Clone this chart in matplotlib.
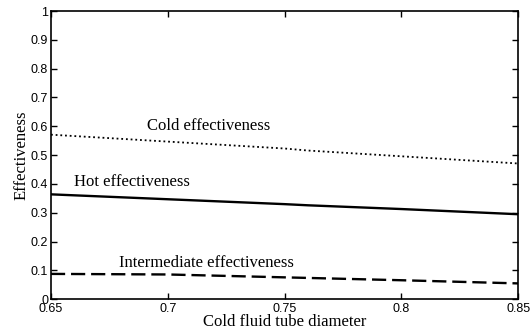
import matplotlib
matplotlib.use("Agg")
import matplotlib.pyplot as plt

# --------------------------------
# Data
# --------------------------------
diameter = [0.65, 0.70, 0.75, 0.76, 0.80, 0.85]
cold_eff = [0.571, 0.547, 0.523, 0.516, 0.496, 0.471]
hot_eff = [0.364, 0.347, 0.330, 0.326, 0.313, 0.295]
inter_eff = [0.088, 0.086, 0.076, 0.074, 0.066, 0.055]

x_ticks = [0.65, 0.7, 0.75, 0.8, 0.85]
x_tick_labels = ["0.65", "0.7", "0.75", "0.8", "0.85"]
y_ticks = [0, 0.1, 0.2, 0.3, 0.4, 0.5, 0.6, 0.7, 0.8, 0.9, 1]
y_tick_labels = ["0", "0.1", "0.2", "0.3", "0.4", "0.5", "0.6", "0.7", "0.8", "0.9", "1"]

serif = "Liberation Serif"
sans = "Liberation Sans"

# --------------------------------
# Plot
# --------------------------------
fig = plt.figure(figsize=(5.31, 3.34), dpi=100)
ax = fig.add_axes([0.096, 0.104, 0.880, 0.863])

ax.plot(diameter, cold_eff, color="black", linestyle=(0, (1, 1.6)), linewidth=1.3)
ax.plot(diameter, hot_eff, color="black", linestyle="-", linewidth=1.7)
ax.plot(diameter, inter_eff, color="black", linestyle=(0, (6, 2.5)), linewidth=1.7)

ax.text(0.691, 0.602, "Cold effectiveness", family=serif, fontsize=12, va="center")
ax.text(0.660, 0.407, "Hot effectiveness", family=serif, fontsize=12, va="center")
ax.text(0.679, 0.127, "Intermediate effectiveness", family=serif, fontsize=12, va="center")

ax.set_xlim(0.65, 0.85)
ax.set_ylim(0, 1)
ax.set_xticks(x_ticks)
ax.set_xticklabels(x_tick_labels, family=sans, fontsize=9)
ax.set_yticks(y_ticks)
ax.set_yticklabels(y_tick_labels, family=sans, fontsize=9)
ax.tick_params(direction="in", top=True, right=True, length=4, width=1, pad=2)
ax.tick_params(axis="x", pad=3)
for s in ax.spines.values():
    s.set_linewidth(1.2)

ax.set_xlabel("Cold fluid tube diameter", family=serif, fontsize=12, labelpad=-1)
ax.set_ylabel("Effectiveness", family=serif, fontsize=12, labelpad=1)

fig.savefig("out.png", dpi=100)
